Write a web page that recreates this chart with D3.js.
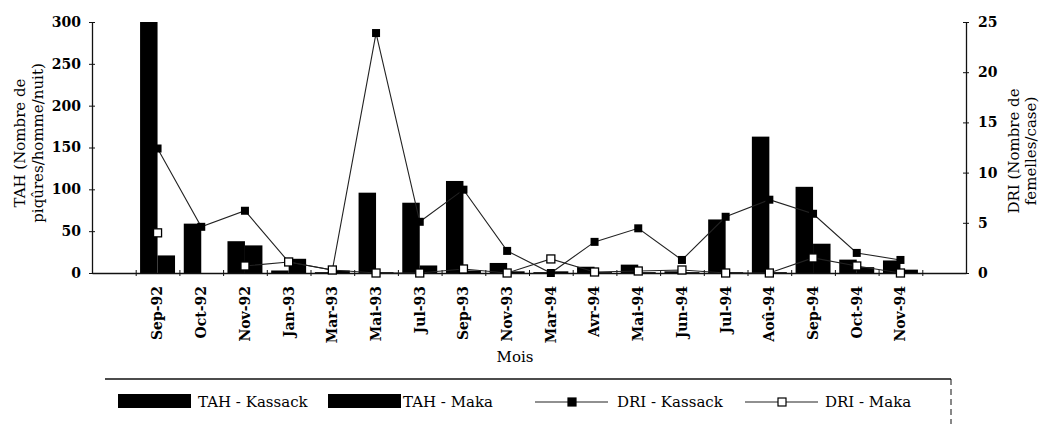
<!DOCTYPE html>
<html>
<head>
<meta charset="utf-8">
<script src="https://cdn.jsdelivr.net/npm/d3@7"></script>
<style>
  body { margin: 0; background: #fff; }
  svg { display: block; }
  text { font-family: "DejaVu Serif", "Liberation Serif", serif; fill: #000; }
  .axis path, .axis line { stroke: #111; }
</style>
</head>
<body>
<script>
// Months on the x axis
var months = ["Sep-92", "Oct-92", "Nov-92", "Jan-93", "Mar-93", "Mai-93", "Jul-93", "Sep-93", "Nov-93",
  "Mar-94", "Avr-94", "Mai-94", "Jun-94", "Jul-94", "Aoû-94", "Sep-94", "Oct-94", "Nov-94"];

// TAH (bars, left axis)
var tahKassack = [300, 59, 38, 3, 1, 96, 84, 110, 12, 1, 7.5, 10, 2, 64, 163, 103, 16, 15];
var tahMaka = [21, 0, 33, 17, 3, 1, 9, 3, 2, 2, 1, 1, 1, 1, 1, 35, 7, 4];

// DRI (lines, right axis)
var driKassack = [12.4, 4.6, 6.2, 1.1, 0.3, 23.9, 5.1, 8.3, 2.2, 0, 3.1, 4.45, 1.3, 5.6, 7.3, 5.9, 2.0, 1.3];
var driMaka = [4.0, null, 0.7, 1.1, 0.3, 0, 0, 0.4, 0, 1.4, 0.1, 0.2, 0.3, 0, 0, 1.5, 0.7, 0];

var leftTicks = [0, 50, 100, 150, 200, 250, 300];
var rightTicks = [0, 5, 10, 15, 20, 25];

var svgWidth = 1039;
var svgHeight = 424;

var margin = { top: 22, right: 73, bottom: 151, left: 92 };
var chartWidth = svgWidth - margin.left - margin.right;
var chartHeight = svgHeight - margin.top - margin.bottom;

var svg = d3.select("body")
  .append("svg")
  .attr("width", svgWidth)
  .attr("height", svgHeight);

var chartGroup = svg.append("g")
  .attr("transform", `translate(${margin.left}, ${margin.top})`);

// one empty band each side of the months
var slots = d3.range(-1, months.length + 1);
var xScale = d3.scaleBand()
  .domain(slots)
  .range([0, chartWidth]);

var xSub = d3.scaleBand()
  .domain(["kassack", "maka"])
  .range([0, xScale.bandwidth()])
  .paddingOuter(0.25);

var xEdges = d3.scaleLinear()
  .domain([0, slots.length])
  .range([0, chartWidth]);

var yLeft = d3.scaleLinear().domain([0, 300]).range([chartHeight, 0]);
var yRight = d3.scaleLinear().domain([0, 25]).range([chartHeight, 0]);

// bars
var barData = months.map((m, i) => ({ i: i, kassack: tahKassack[i], maka: tahMaka[i] }));

var groups = chartGroup.selectAll(".month")
  .data(barData)
  .enter()
  .append("g")
  .attr("transform", d => `translate(${xScale(d.i)}, 0)`);

groups.selectAll("rect")
  .data(d => [{ key: "kassack", v: d.kassack }, { key: "maka", v: d.maka }])
  .enter()
  .append("rect")
  .attr("x", d => xSub(d.key))
  .attr("width", xSub.bandwidth())
  .attr("y", d => yLeft(d.v))
  .attr("height", d => chartHeight - yLeft(d.v))
  .attr("fill", "#000");

// x axis ticks at band edges
var xAxisG = chartGroup.append("g")
  .attr("class", "axis")
  .attr("transform", `translate(0, ${chartHeight})`)
  .call(d3.axisBottom(xEdges).tickValues(d3.range(1, slots.length)).tickSizeInner(3).tickSizeOuter(0).tickFormat(""));
xAxisG.selectAll(".tick line").attr("y1", -3);
xAxisG.select(".domain").attr("stroke-width", 1.3);

// month labels
var labelAxis = chartGroup.append("g")
  .attr("transform", `translate(0, ${chartHeight})`)
  .call(d3.axisBottom(xScale).tickValues(d3.range(months.length)).tickSize(0).tickFormat(i => months[i]));
labelAxis.select(".domain").remove();
labelAxis.selectAll("text")
  .attr("transform", "rotate(-90)")
  .attr("text-anchor", "end")
  .attr("x", -13)
  .attr("y", 0)
  .attr("dy", "0.35em")
  .style("font-size", "14px")
  .style("font-weight", "bold");

// left axis
var leftAxisG = chartGroup.append("g")
  .attr("class", "axis")
  .call(d3.axisLeft(yLeft).tickValues(leftTicks).tickSizeInner(3).tickSizeOuter(0).tickPadding(8));
leftAxisG.selectAll(".tick line").attr("x1", 3);
leftAxisG.selectAll("text").style("font-size", "14px").style("font-weight", "bold");
leftAxisG.select(".domain").attr("stroke-width", 1.3);

// right axis
var rightAxisG = chartGroup.append("g")
  .attr("class", "axis")
  .attr("transform", `translate(${chartWidth}, 0)`)
  .call(d3.axisRight(yRight).tickValues(rightTicks).tickSizeInner(3).tickSizeOuter(0).tickPadding(9));
rightAxisG.selectAll(".tick line").attr("x1", -3);
rightAxisG.selectAll("text").style("font-size", "14px").style("font-weight", "bold");
rightAxisG.select(".domain").attr("stroke-width", 1.3);

// DRI lines
var cx = i => xScale(i) + xScale.bandwidth() / 2;

var lineK = d3.line()
  .x((d, i) => cx(i))
  .y(d => yRight(d));

var lineM = d3.line()
  .defined(d => d !== null)
  .x((d, i) => cx(i))
  .y(d => yRight(d));

chartGroup.append("path")
  .datum(driKassack)
  .attr("d", lineK)
  .attr("fill", "none")
  .attr("stroke", "#222")
  .attr("stroke-width", 1.1);

chartGroup.append("path")
  .datum(driMaka)
  .attr("d", lineM)
  .attr("fill", "none")
  .attr("stroke", "#222")
  .attr("stroke-width", 1.1);

chartGroup.selectAll(".mk")
  .data(driKassack)
  .enter()
  .append("rect")
  .attr("x", (d, i) => cx(i) - 4)
  .attr("y", d => yRight(d) - 4)
  .attr("width", 8)
  .attr("height", 8)
  .attr("fill", "#000");

chartGroup.selectAll(".mm")
  .data(driMaka.map((v, i) => ({ v: v, i: i })).filter(d => d.v !== null))
  .enter()
  .append("rect")
  .attr("x", d => cx(d.i) - 4)
  .attr("y", d => yRight(d.v) - 4)
  .attr("width", 8)
  .attr("height", 8)
  .attr("fill", "#fff")
  .attr("stroke", "#000")
  .attr("stroke-width", 1.3);

// axis titles
svg.append("text")
  .attr("transform", "translate(20, 143) rotate(-90)")
  .attr("text-anchor", "middle")
  .style("font-size", "15px")
  .selectAll("tspan")
  .data(["TAH (Nombre de", "piqûres/homme/nuit)"])
  .enter()
  .append("tspan")
  .attr("x", 0)
  .attr("dy", (d, i) => i === 0 ? "0.35em" : "1.15em")
  .text(d => d);

svg.append("text")
  .attr("transform", "translate(1014, 151) rotate(-90)")
  .attr("text-anchor", "middle")
  .style("font-size", "15px")
  .selectAll("tspan")
  .data(["DRI (Nombre de", "femelles/case)"])
  .enter()
  .append("tspan")
  .attr("x", 0)
  .attr("dy", (d, i) => i === 0 ? "0.35em" : "1.1em")
  .text(d => d);

svg.append("text")
  .attr("x", 515)
  .attr("y", 362)
  .attr("text-anchor", "middle")
  .style("font-size", "15px")
  .text("Mois");

// legend
var legend = svg.append("g");
legend.append("line")
  .attr("x1", 105).attr("x2", 951)
  .attr("y1", 379).attr("y2", 379)
  .attr("stroke", "#111").attr("stroke-width", 1.5);
legend.append("line")
  .attr("x1", 951).attr("x2", 951)
  .attr("y1", 379).attr("y2", 424)
  .attr("stroke", "#111").attr("stroke-width", 1)
  .attr("stroke-dasharray", "6,4");

var legendItems = [
  { label: "TAH - Kassack", type: "bar", x: 118, tx: 198 },
  { label: "TAH - Maka", type: "bar", x: 328, tx: 403 },
  { label: "DRI - Kassack", type: "lineK", x: 535, tx: 617 },
  { label: "DRI - Maka", type: "lineM", x: 745, tx: 825 }
];

legendItems.forEach(function(item) {
  var g = legend.append("g");
  if (item.type === "bar") {
    g.append("rect")
      .attr("x", item.x).attr("y", 394)
      .attr("width", 73).attr("height", 14)
      .attr("fill", "#000");
  } else {
    g.append("line")
      .attr("x1", item.x).attr("x2", item.x + 73)
      .attr("y1", 402).attr("y2", 402)
      .attr("stroke", "#222").attr("stroke-width", 1.1);
    g.append("rect")
      .attr("x", item.x + 33).attr("y", 398)
      .attr("width", 8).attr("height", 8)
      .attr("fill", item.type === "lineK" ? "#000" : "#fff")
      .attr("stroke", "#000")
      .attr("stroke-width", 1.2);
  }
  g.append("text")
    .attr("x", item.tx)
    .attr("y", 402)
    .attr("dy", "0.35em")
    .style("font-size", "15px")
    .text(item.label);
});
</script>
</body>
</html>
